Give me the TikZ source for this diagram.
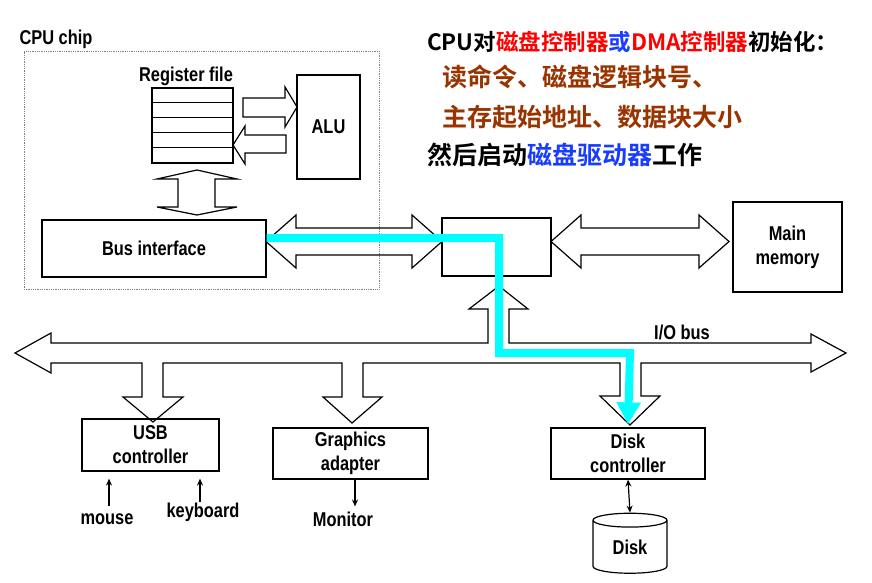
\documentclass[tikz,border=0pt]{standalone}
\usepackage{fontspec}
\newfontfamily\lblfont{Liberation Sans}[FakeStretch=0.82]
\newfontfamily\cjk{Noto Sans CJK SC}[BoldFont={Noto Sans CJK SC Bold}]
\usetikzlibrary{arrows.meta, shapes.geometric, positioning}
\definecolor{hotred}{RGB}{255,0,0}
\definecolor{diskblue}{RGB}{25,60,255}
\definecolor{rust}{RGB}{153,51,0}
\definecolor{flow}{RGB}{0,255,255}

\newcommand{\dblharrow}[3]{%
  \draw[fat] (#1,#3) -- ({#1+30},{#3-26.5}) -- ({#1+30},{#3-13.5}) -- ({#2-30},{#3-13.5}) -- ({#2-30},{#3-26.5}) -- (#2,#3)
    -- ({#2-30},{#3+26.5}) -- ({#2-30},{#3+13.5}) -- ({#1+30},{#3+13.5}) -- ({#1+30},{#3+26.5}) -- cycle;}

\begin{document}
\begin{tikzpicture}[x=1pt, y=-1pt, >={Stealth[length=7pt,width=6pt]},
  box/.style={draw, line width=1.2pt, rectangle, inner sep=0pt, align=center, font=\lblfont\bfseries\fontsize{20}{24}\selectfont},
  lbl/.style={inner sep=0pt, align=center, font=\lblfont\bfseries\fontsize{20}{24}\selectfont},
  chip/.style={draw=gray, densely dotted, line width=0.8pt, rectangle, inner sep=0pt},
  fat/.style={draw, line width=1.2pt, line join=miter},
  thin/.style={line width=1.2pt},
  flowline/.style={draw=flow, line width=8pt, line join=miter, -{Triangle[width=23pt,length=22pt]}},
  cn/.style={anchor=west, inner sep=0pt, font=\cjk\bfseries\fontsize{25}{30}\selectfont},
  cnhead/.style={cn, font=\cjk\bfseries\fontsize{22.5}{27}\selectfont}]
	\useasboundingbox (0,0) rectangle (872,583);

	\node[chip, minimum width=355pt, minimum height=238pt] (chip) at (201.5,170) {};
	\node[lbl] (chiplbl) at (56,39) {CPU chip};
	\node[box, minimum width=81pt, minimum height=75pt] (regs) at (192.5,125.5) {};
	\foreach \k in {1,...,4}
		\draw[thin] ([yshift=-\k*15pt]regs.north west) -- ([yshift=-\k*15pt]regs.north east);
	\node[lbl] (reglbl) at (186,76) {Register file};
	\node[box, minimum width=63pt, minimum height=104pt] (alu) at (328.5,127) {ALU};
	\node[box, minimum width=224pt, minimum height=57pt] (busif) at (154,248.5) {Bus interface};
	\node[box, minimum width=109pt, minimum height=58pt] (bridge) at (496.5,247) {};
	\node[box, minimum width=109pt, minimum height=90pt] (mainmem) at (787.5,247) {Main\\memory};
	\node[box, minimum width=137pt, minimum height=52pt] (usbctl) at (150.5,445) {USB\\controller};
	\node[box, minimum width=155pt, minimum height=51pt] (gfx) at (350.5,453.5) {Graphics\\adapter};
	\node[box, minimum width=154pt, minimum height=51pt] (diskctl) at (628,453.5) {Disk\\controller};
	\node[box, cylinder, shape border rotate=90, aspect=0.4, minimum width=74pt, minimum height=60pt] (disk) at (630,547) {Disk};
	\node[lbl] (mouse) at (107,519) {mouse};
	\node[lbl] (kbd) at (203,512) {keyboard};
	\node[lbl] (monitor) at (343,519) {Monitor};
	\node[lbl] (iobus) at (682,332) {I/O bus};

	\node[cnhead] (l1) at (427,42) {CPU对\textcolor{hotred}{磁盘控制器}\textcolor{diskblue}{或}\textcolor{hotred}{DMA控制器}初始化：};
	\node[cn, text=rust] (l2) at (442,77) {读命令、磁盘逻辑块号、};
	\node[cn, text=rust] (l3) at (442,117) {主存起始地址、数据块大小};
	\node[cn] (l4) at (427,155) {然后启动\textcolor{diskblue}{磁盘驱动器}工作};

	\draw[fat] (243,98) -- (285,98) -- (285,87) -- (297,107) -- (285,127) -- (285,117) -- (243,117) -- cycle;
	\draw[fat] (286,135) -- (245,135) -- (245,126) -- (233,145) -- (245,164) -- (245,153) -- (286,153) -- cycle;
	\draw[fat] (197,170) -- (237,179) -- (215,179) -- (215,207) -- (237,207) -- (197,215) -- (157,207) -- (178,207) -- (178,179) -- (157,179) -- cycle;
	\dblharrow{266}{442}{241.5}
	\dblharrow{551}{729}{241.5}
	\draw[fat] (15,353) -- (51,333) -- (51,343) -- (488,343) -- (488,309) -- (469,309) -- (499,286) -- (528,309) -- (509,309)
		-- (509,343) -- (811,343) -- (811,334) -- (846,353) -- (811,372) -- (811,363) -- (641,363) -- (641,396) -- (660,396)
		-- (630,425) -- (600,396) -- (620,396) -- (620,363) -- (363,363) -- (363,397) -- (382,397) -- (352,423) -- (323,397)
		-- (342,397) -- (342,363) -- (163,363) -- (163,397) -- (183,397) -- (153,422) -- (123,397) -- (142,397) -- (142,363)
		-- (51,363) -- (51,373) -- cycle;

	\draw[thin, ->, shorten <=7pt, shorten >=7pt] ([xshift=2pt]mouse.north) -- ([xshift=2pt]mouse.north |- usbctl.south);
	\draw[thin, ->, shorten >=7pt] ([xshift=-3pt]kbd.north) -- ([xshift=-3pt]kbd.north |- usbctl.south);
	\draw[thin, ->, shorten >=5pt] ([xshift=4.5pt]gfx.south) -- ([xshift=4.5pt]gfx.south |- monitor.north);
	\draw[thin, <->] (diskctl.south) -- (disk.north);

	\draw[flowline, shorten >=3pt] ([yshift=10.5pt]busif.east) -- (499,238) -- (499,353) -- (630,353) -- (diskctl.north);
\end{tikzpicture}
\end{document}
